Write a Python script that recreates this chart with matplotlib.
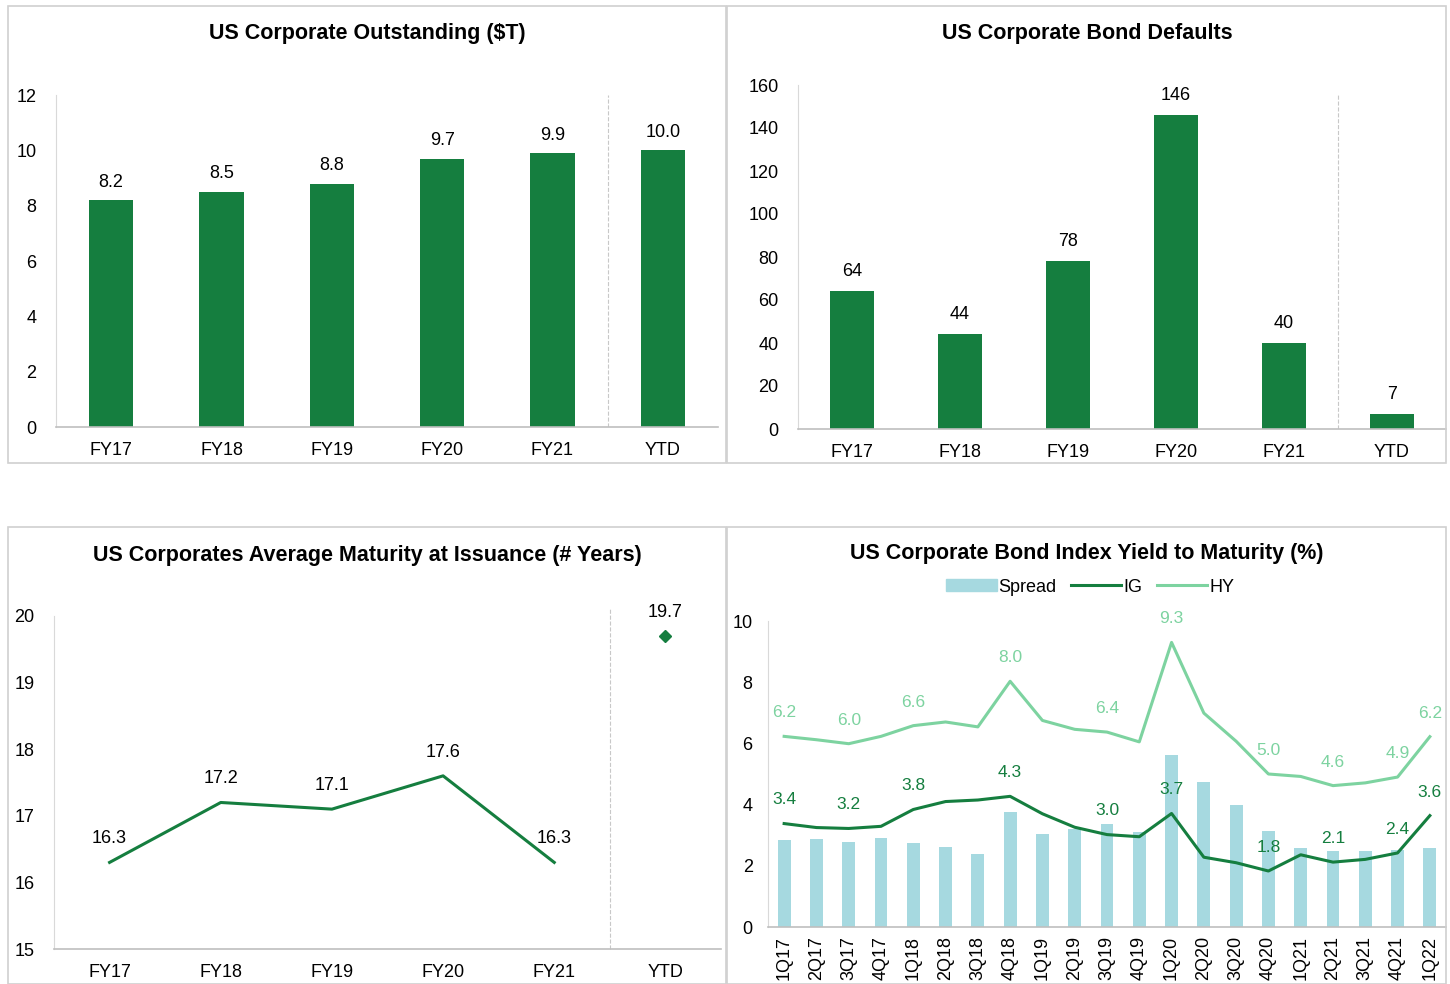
import numpy as np
import matplotlib
matplotlib.use("Agg")
from matplotlib import pyplot as plt
from matplotlib.patches import Rectangle, Patch
from matplotlib.lines import Line2D

plt.rcParams["font.family"] = ["Liberation Sans", "DejaVu Sans"]

DARK, LIGHT, SPREAD_C = "#157E3F", "#7DD3A0", "#A6D9E0"
W, H = 1450, 984

years = ["FY17", "FY18", "FY19", "FY20", "FY21", "YTD"]
outstanding = [8.2, 8.5, 8.8, 9.7, 9.9, 10.0]
defaults = [64, 44, 78, 146, 40, 7]
maturity = [16.3, 17.2, 17.1, 17.6, 16.3]
maturity_ytd = 19.7

quarters = ["1Q17", "2Q17", "3Q17", "4Q17", "1Q18", "2Q18", "3Q18", "4Q18", "1Q19", "2Q19", "3Q19",
            "4Q19", "1Q20", "2Q20", "3Q20", "4Q20", "1Q21", "2Q21", "3Q21", "4Q21", "1Q22"]
spread = [2.84, 2.87, 2.79, 2.90, 2.75, 2.61, 2.40, 3.76, 3.03, 3.21, 3.35,
          3.11, 5.61, 4.73, 4.00, 3.14, 2.58, 2.50, 2.49, 2.51, 2.57]
ig = [3.38, 3.25, 3.22, 3.29, 3.84, 4.10, 4.15, 4.27, 3.70, 3.26, 3.02,
      2.95, 3.71, 2.28, 2.10, 1.83, 2.36, 2.12, 2.21, 2.42, 3.64]
hy = [6.23, 6.12, 5.99, 6.23, 6.58, 6.70, 6.54, 8.03, 6.75, 6.46, 6.37,
      6.05, 9.30, 6.99, 6.07, 5.00, 4.92, 4.62, 4.71, 4.90, 6.22]
labelled = [0, 2, 4, 7, 10, 12, 15, 17, 19, 20]

fig = plt.figure(figsize=(W/100, H/100), dpi=100)

def px_axes(l, t, r, b):
    return fig.add_axes([l/W, 1-b/H, (r-l)/W, (b-t)/H])

def style(ax, ypad, xpad, fs=13):
    for s in ["top", "right"]: ax.spines[s].set_visible(False)
    ax.spines["left"].set_color("#d9d9d9")
    ax.spines["bottom"].set_color("#bfbfbf")
    ax.spines["bottom"].set_linewidth(1.2)
    ax.tick_params(axis="y", length=0, pad=ypad, labelsize=fs)
    ax.tick_params(axis="x", length=0, pad=xpad, labelsize=fs)

# panel borders
for (l, t, r, b) in [(8, 6, 726, 463), (727, 6, 1446, 463), (8, 527, 726, 984), (727, 527, 1446, 984)]:
    fig.patches.append(Rectangle((l/W, 1-b/H), (r-l)/W, (b-t)/H, transform=fig.transFigure,
                                 fill=False, edgecolor="#d0d0d0", lw=1.2))

def title(x, y, s):
    fig.text(x/W, 1-y/H, s, ha="center", va="center", fontsize=15.5, fontweight="bold")

# panel 1
ax1 = px_axes(56, 95, 718, 427)
x = np.arange(len(years))
ax1.bar(x, outstanding, width=0.4, color=DARK)
for i, v in enumerate(outstanding):
    ax1.annotate(f"{v:.1f}", (i, v), xytext=(0, 13), textcoords="offset points", ha="center", va="center", fontsize=13)
ax1.set_xlim(-0.5, 5.5); ax1.set_ylim(0, 12)
ax1.set_yticks(range(0, 13, 2)); ax1.set_xticks(x, years)
ax1.axvline(4.5, color="#c8c8c8", ls="--", lw=0.8)
style(ax1, 14, 10.5)
title(367, 33, "US Corporate Outstanding ($T)")

# panel 2
ax2 = px_axes(798, 85, 1446, 429)
ax2.bar(x, defaults, width=0.4, color=DARK)
for i, v in enumerate(defaults):
    ax2.annotate(f"{v}", (i, v), xytext=(0, 14), textcoords="offset points", ha="center", va="center", fontsize=13)
ax2.set_xlim(-0.5, 5.5); ax2.set_ylim(0, 160)
ax2.set_yticks(range(0, 161, 20)); ax2.set_xticks(x, years)
ax2.axvline(4.5, color="#c8c8c8", ls="--", lw=0.8, ymax=0.97)
style(ax2, 14, 10.5)
title(1087, 34, "US Corporate Bond Defaults")

# panel 3
ax3 = px_axes(54, 616, 721, 949)
ax3.plot(range(len(maturity)), maturity, color=DARK, lw=2.2)
ax3.plot([5], [maturity_ytd], ls="none", marker="D", ms=6, color=DARK)
for i, v in enumerate(maturity + [maturity_ytd]):
    ax3.annotate(f"{v:.1f}", (i, v), xytext=(0, 17), textcoords="offset points", ha="center", va="center",
                 fontsize=13, annotation_clip=False)
ax3.set_xlim(-0.5, 5.5); ax3.set_ylim(15, 20)
ax3.set_yticks(range(15, 21)); ax3.set_xticks(x, years)
ax3.plot([4.5, 4.5], [15, 20.1], color="#c8c8c8", ls="--", lw=0.8, clip_on=False)
style(ax3, 14, 10.5)
title(367, 555, "US Corporates Average Maturity at Issuance (# Years)")

# panel 4
ax4 = px_axes(768, 621, 1446, 927)
q = np.arange(len(quarters))
ax4.bar(q, spread, width=0.4, color=SPREAD_C)
ax4.plot(q, ig, color=DARK, lw=2.2)
ax4.plot(q, hy, color=LIGHT, lw=2.2)
for i in labelled:
    ax4.annotate(f"{hy[i]:.1f}", (i, hy[i]), xytext=(0, 17), textcoords="offset points", ha="center", va="center",
                 fontsize=12.5, color=LIGHT, annotation_clip=False)
    ax4.annotate(f"{ig[i]:.1f}", (i, ig[i]), xytext=(0, 17), textcoords="offset points", ha="center", va="center",
                 fontsize=12.5, color=DARK, annotation_clip=False)
ax4.set_xlim(-0.5, len(quarters)-0.5); ax4.set_ylim(0, 10)
ax4.set_yticks(range(0, 11, 2)); ax4.set_xticks(q, quarters, rotation=90)
style(ax4, 11, 6.5)
title(1087, 554, "US Corporate Bond Index Yield to Maturity (%)")
handles = [Patch(color=SPREAD_C), Line2D([], [], color=DARK, lw=2.2), Line2D([], [], color=LIGHT, lw=2.2)]
fig.legend(handles, ["Spread", "IG", "HY"], loc="center", bbox_to_anchor=(1090/W, 1-587/H), ncol=3,
           frameon=False, fontsize=13, handlelength=2.8, handletextpad=0.1, columnspacing=0.8,
           handleheight=0.6)

fig.savefig("out.png", dpi=100)
